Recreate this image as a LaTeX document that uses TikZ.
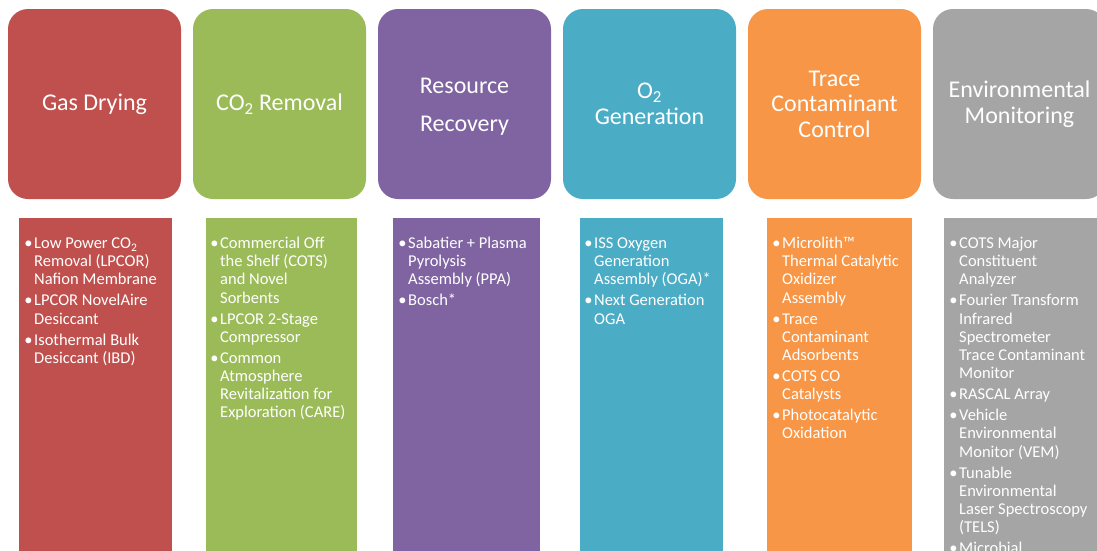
\documentclass[tikz,border=0pt]{standalone}
\usepackage{fontspec}
\setmainfont{Carlito}
\definecolor{dryred}{HTML}{C0504D}
\definecolor{cogreen}{HTML}{9BBB59}
\definecolor{respurple}{HTML}{8064A2}
\definecolor{oxteal}{HTML}{4BACC6}
\definecolor{tcorange}{HTML}{F79646}
\definecolor{envgray}{HTML}{A5A5A5}
\newcommand{\bul}{\strut\llap{\textbullet\hspace{1.6pt}}}
\begin{document}
\begin{tikzpicture}[x=1pt,y=-1pt,
	headtext/.style={inner sep=0pt,text=white,align=center,font=\fontsize{24}{25.5}\selectfont},
	headbox/.style={headtext,rounded corners=20pt,fill=#1,minimum width=173pt,minimum height=190pt},
	colbox/.style 2 args={fill=#1,anchor=north west,minimum width=#2,minimum height=350pt,inner sep=0pt},
	itemtext/.style={anchor=north west,inner sep=0pt,text=white,align=left,font=\fontsize{16.5}{18.2}\selectfont}]
	\useasboundingbox (0,0) rectangle (1097,550);
	\clip (0,0) rectangle (1097,550);
	% headings
	\node[headbox=dryred] (gas) at (94.5,104) {Gas Drying};
	\node[headbox=cogreen] (co2) at (279.5,104) {CO\textsubscript{2} Removal};
	\node[headbox=respurple] (res) at (464.5,104) {};
	\node[headtext] (restitle) at (464.5,107) {Resource\\[12.5pt]Recovery};
	\node[headbox=oxteal] (oxy) at (649.5,104) {O\textsubscript{2}\\Generation};
	\node[headbox=tcorange] (tcc) at (834.5,104) {Trace\\Contaminant\\Control};
	\node[headbox=envgray] (env) at (1019.5,104) {Environmental\\Monitoring};
	% columns
	\node[colbox={dryred}{153pt}] (gascol) at (19,218) {};
	\node[colbox={cogreen}{151pt}] (co2col) at (206,218) {};
	\node[colbox={respurple}{147pt}] (rescol) at (393,218) {};
	\node[colbox={oxteal}{143pt}] (oxycol) at (580,218) {};
	\node[colbox={tcorange}{145pt}] (tcccol) at (767,218) {};
	\node[colbox={envgray}{160pt}] (envcol) at (944,218) {};
	% lists
	\node[itemtext] (gaslist) at (34,235.6) {\bul Low Power CO\textsubscript{2}\\Removal (LPCOR)\\Nafion Membrane\\[2.8pt]
		\bul LPCOR NovelAire\\Desiccant\\[2.8pt]
		\bul Isothermal Bulk\\Desiccant (IBD)};
	\node[itemtext] (co2list) at (220,235.6) {\bul Commercial Off\\the Shelf (COTS)\\and Novel\\Sorbents\\[2.8pt]
		\bul LPCOR 2-Stage\\Compressor\\[2.8pt]
		\bul Common\\Atmosphere\\Revitalization for\\Exploration (CARE)};
	\node[itemtext] (reslist) at (408,235.6) {\bul Sabatier + Plasma\\Pyrolysis\\Assembly (PPA)\\[2.8pt]
		\bul Bosch*};
	\node[itemtext] (oxylist) at (594,235.6) {\bul ISS Oxygen\\Generation\\Assembly (OGA)*\\[2.8pt]
		\bul Next Generation\\OGA};
	\node[itemtext] (tcclist) at (782,235.6) {\bul Microlith™\\Thermal Catalytic\\Oxidizer\\Assembly\\[2.8pt]
		\bul Trace\\Contaminant\\Adsorbents\\[2.8pt]
		\bul COTS CO\\Catalysts\\[2.8pt]
		\bul Photocatalytic\\Oxidation};
	\node[itemtext] (envlist) at (959,235.6) {\bul COTS Major\\Constituent\\Analyzer\\[2.8pt]
		\bul Fourier Transform\\Infrared\\Spectrometer\\Trace Contaminant\\Monitor\\[2.8pt]
		\bul RASCAL Array\\[2.8pt]
		\bul Vehicle\\Environmental\\Monitor (VEM)\\[2.8pt]
		\bul Tunable\\Environmental\\Laser Spectroscopy\\(TELS)\\[2.8pt]
		\bul Microbial};
\end{tikzpicture}
\end{document}
